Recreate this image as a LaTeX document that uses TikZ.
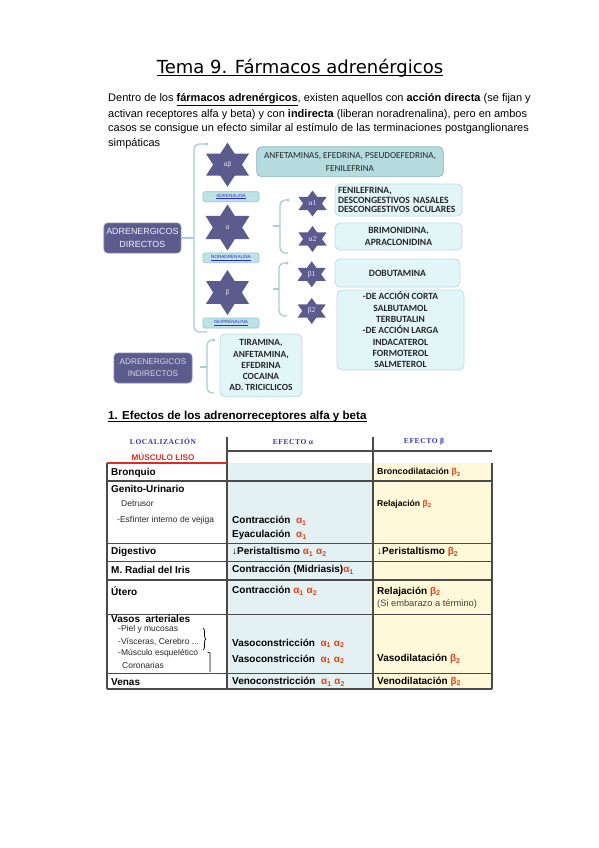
\documentclass[tikz,border=0pt]{standalone}
\usepackage{fontspec}
\setmainfont{Liberation Sans}
\newfontfamily\titlefont{DejaVu Sans}
\newfontfamily\calib{Carlito}
\newfontfamily\tms{Liberation Serif}
\usetikzlibrary{decorations.pathreplacing}
\definecolor{starcol}{HTML}{5C5B8E}
\definecolor{brk}{HTML}{A9CDD2}
\definecolor{tealfill}{HTML}{B4DBDE}
\definecolor{tealdraw}{HTML}{8FB7BC}
\definecolor{lightfill}{HTML}{E2F6F8}
\definecolor{lightdraw}{HTML}{BCDDE1}
\definecolor{lblfill}{HTML}{BEE3E6}
\definecolor{lbldraw}{HTML}{97C2C7}
\definecolor{lbltext}{HTML}{2A2AD0}
\definecolor{grk}{HTML}{E5421E}
\definecolor{hdrblue}{HTML}{3232B4}
\definecolor{cyanfill}{HTML}{E4F1F2}
\definecolor{yelfill}{HTML}{FFF9DA}
\definecolor{tline}{HTML}{4A4A4A}
\definecolor{redline}{HTML}{E02A20}
\definecolor{darkdraw}{HTML}{8786B0}
\newcommand\fsz[2]{\fontsize{#1}{#2}\selectfont}
\newcommand\myA[1]{\textcolor{grk}{α\textsubscript{#1}}}
\newcommand\myB[1]{\textcolor{grk}{β\textsubscript{#1}}}
\newcommand\hexstar[4]{%
  \fill[starcol,shift={(#1,#2)},xscale=#4]
    (90:#3) -- (60:{#3*0.58}) -- (30:#3) -- (0:{#3*0.58}) -- (-30:#3) -- (-60:{#3*0.58})
    -- (-90:#3) -- (-120:{#3*0.58}) -- (-150:#3) -- (180:{#3*0.58}) -- (150:#3) -- (120:{#3*0.58}) -- cycle;}
\begin{document}
\begin{tikzpicture}[x=1pt,y=-1pt,
  ptxt/.style={anchor=west,inner sep=0pt,font=\fsz{11}{13}},
  brkline/.style={draw=brk,line width=1.3pt,rounded corners=5pt},
  darkbox/.style={draw=darkdraw,fill=starcol,rounded corners=4pt,line width=0.8pt,text=white!90!starcol,align=center,inner sep=1pt},
  lbox/.style={draw=lightdraw,fill=lightfill,rounded corners=5pt,line width=0.8pt,align=center,inner sep=0pt,font=\calib\bfseries\fsz{9.6}{9.8},text=black!85},
  lblbox/.style={draw=lbldraw,fill=lblfill,rounded corners=1.5pt,line width=0.6pt,minimum width=56,minimum height=10,inner sep=0pt,font=\fsz{4.6}{5},text=lbltext},
  startxt/.style={inner sep=0pt,text=white!88!starcol},
  cell/.style={anchor=west,inner sep=0pt,font=\bfseries\fsz{10}{12}},
  small/.style={anchor=west,inner sep=0pt,font=\fsz{8.5}{9},text=black!85},
  hdr/.style={inner sep=0pt,text=hdrblue,font=\tms\bfseries\addfontfeature{LetterSpace=8}\fsz{7.5}{8}},
  tl/.style={draw=tline,line width=1.2pt}
]
\useasboundingbox[fill=white] (0,0) rectangle (599,848);

% ---------- title and paragraph
\node[inner sep=0pt,font=\titlefont\fsz{18}{20}] (title) at (300,68.3) {Tema 9. Fármacos adrenérgicos};
\draw[line width=0.9pt] ([yshift=-2.2pt]title.base west) -- ([yshift=-2.2pt]title.base east);

\node[ptxt] (p1) at (108,99.5) {Dentro de los \textbf{\underline{fármacos adrenérgicos}}, existen aquellos con \textbf{acción directa} (se fijan y};
\node[ptxt] (p2) at (108,114.2) {activan receptores alfa y beta) y con \textbf{indirecta} (liberan noradrenalina), pero en ambos};
\node[ptxt] (p3) at (108,128.9) {casos se consigue un efecto similar al estímulo de las terminaciones postganglionares};
\node[ptxt] (p4) at (108,143.6) {simpáticas};

% ---------- brackets
\draw[brkline] (207,144) -- (194,144) -- (194,332) -- (207,332);
\fill[brk] (207,144) circle (1.7);
\draw[brkline] (288,200) -- (280,200) -- (280,253) -- (288,253);
\fill[brk] (288,200) circle (1.7);
\coordinate (ta) at (273,226);
\draw[draw=brk,line width=1.3pt] (ta) -- (280,226);
\draw[brkline] (287,263) -- (279,263) -- (279,316) -- (287,316);
\fill[brk] (287,263) circle (1.7);
\coordinate (tb) at (273,289);
\draw[draw=brk,line width=1.3pt] (tb) -- (279,289);
\draw[brkline] (214,340) -- (207,340) -- (207,393) -- (214,393);
\fill[brk] (214,340) circle (1.7);
\coordinate (ti) at (200,367);
\draw[draw=brk,line width=1.3pt] (ti) -- (207,367);

% ---------- dark boxes
\node[darkbox,minimum width=77,minimum height=30,font=\fsz{8.9}{12.5}] (dir) at (142.4,238) {ADRENERGICOS\\DIRECTOS};
\coordinate (dirb) at (194,238);
\draw[draw=brk,line width=1.3pt] (dir.east) -- (dirb);
\node[darkbox,minimum width=78,minimum height=30,font=\fsz{8.2}{12},text=white!75!starcol] (ind) at (153,368) {ADRENERGICOS\\INDIRECTOS};

% ---------- stars
\hexstar{227.5}{164.7}{22}{1.13}
\node[startxt,font=\fsz{6.5}{7}] (sab) at (227.5,164.7) {αβ};
\hexstar{227.5}{227.5}{23}{1.1}
\node[startxt,font=\fsz{6.5}{7}] (sa) at (227.5,227.5) {α};
\hexstar{227.5}{292.5}{22.5}{1.1}
\node[startxt,font=\fsz{6.5}{7}] (sb) at (227.5,292.5) {β};
\hexstar{312.5}{203.5}{13}{1.25}
\node[startxt,font=\tms\fsz{7.5}{8}] (sa1) at (312.5,203.5) {α1};
\hexstar{312.5}{239}{13}{1.25}
\node[startxt,font=\tms\fsz{7.5}{8}] (sa2) at (312.5,239) {α2};
\hexstar{311.7}{274.3}{13}{1.25}
\node[startxt,font=\tms\fsz{7.5}{8}] (sb1) at (311.7,274.3) {β1};
\hexstar{311.7}{311}{13}{1.25}
\node[startxt,font=\tms\fsz{7.5}{8}] (sb2) at (311.7,311) {β2};

% ---------- label boxes
\node[lblbox] (adr) at (231,196.7) {\underline{ADRENALINA}};
\node[lblbox] (nor) at (231,257.8) {\underline{NORADRENALINA}};
\node[lblbox] (iso) at (231,323) {\underline{ISOPRENALINA}};

% ---------- drug boxes
\node[draw=tealdraw,fill=tealfill,rounded corners=5pt,line width=0.8pt,minimum width=186.6,minimum height=30,align=center,inner sep=0pt,font=\calib\fsz{9.2}{13.3},text=black!85] (top) at (350,161.7) {ANFETAMINAS, EFEDRINA, PSEUDOEFEDRINA,\\FENILEFRINA};
\node[lbox,minimum width=127,minimum height=32,align=left,text width=121,font=\calib\bfseries\fsz{9.6}{9.85}] (a1) at (398.5,200) {FENILEFRINA,\\DESCONGESTIVOS NASALES\\DESCONGESTIVOS OCULARES};
\node[lbox,minimum width=127,minimum height=27,font=\calib\bfseries\fsz{9.6}{12.6}] (a2) at (398.5,236.5) {BRIMONIDINA,\\APRACLONIDINA};
\node[lbox,minimum width=125,minimum height=28] (b1) at (397.5,273) {DOBUTAMINA};
\node[lbox,minimum width=127,minimum height=80,font=\calib\bfseries\fsz{9.5}{11.33}] (b2) at (400.5,330) {-DE ACCIÓN CORTA\\SALBUTAMOL\\TERBUTALIN\\-DE ACCIÓN LARGA\\INDACATEROL\\FORMOTEROL\\SALMETEROL};
\node[lbox,minimum width=82,minimum height=62.7,font=\calib\bfseries\fsz{9.4}{11.25}] (indd) at (261,365.4) {TIRAMINA,\\ANFETAMINA,\\EFEDRINA\\COCAINA\\AD. TRICICLICOS};

% ---------- section heading
\node[anchor=west,inner sep=0pt,font=\bfseries\fsz{11.6}{14}] (sec) at (108,416.7) {1. Efectos de los adrenorreceptores alfa y beta};
\draw[line width=1pt] ([yshift=-2pt]sec.base west) -- ([yshift=-2pt]sec.base east);

% ---------- table
\fill[cyanfill] (227,463) rectangle (373,689);
\fill[yelfill] (373,463) rectangle (492,689);
\draw[tl] (227,451) -- (492,451);
\foreach \yy in {481,543.5,561.7,580,614.3,673.3,689} \draw[tl] (107,\yy) -- (492,\yy);
\draw[tl] (107,463) -- (107,689);
\draw[tl] (227,437) -- (227,689);
\draw[tl] (373,437) -- (373,689);
\draw[tl] (492,463) -- (492,689);
\draw[draw=redline,line width=1.3pt] (107,463) -- (227,463);

\node[hdr] (h1) at (163,441.7) {LOCALIZACIÓN};
\node[hdr] (h2) at (293,441.7) {EFECTO α};
\node[hdr] (h3) at (424,441.7) {EFECTO β};
\node[inner sep=0pt,font=\bfseries\fsz{8.2}{9},text=redline] (ml) at (163,457) {MÚSCULO LISO};

\node[cell] (r1) at (111,472.5) {Bronquio};
\node[cell,font=\bfseries\fsz{8.8}{10}] (r1c) at (377,472.5) {Broncodilatación \myB{2}};

\node[cell] (r2) at (111,489.3) {Genito-Urinario};
\node[small] (r2s1) at (121,504) {Detrusor};
\node[small] (r2s2) at (117,520) {-Esfínter interno de vejiga};
\node[cell] (r2b1) at (232,520.7) {Contracción \ \myA{1}};
\node[cell] (r2b2) at (232,535) {Eyaculación \ \myA{1}};
\node[cell,font=\bfseries\fsz{8.6}{10}] (r2c) at (377,504) {Relajación \myB{2}};

\node[cell] (r3) at (111,552) {Digestivo};
\node[cell] (r3b) at (232,552) {↓Peristaltismo \myA{1} \myA{2}};
\node[cell] (r3c) at (377,552) {↓Peristaltismo \myB{2}};

\node[cell] (r4) at (111,570) {M. Radial del Iris};
\node[cell] (r4b) at (232,570) {Contracción (Midriasis)\myA{1}};

\node[cell] (r5) at (111,591) {Útero};
\node[cell] (r5b) at (232,591) {Contracción \myA{1} \myA{2}};
\node[cell] (r5c) at (377,591.5) {Relajación \myB{2}};
\node[small,font=\fsz{9.3}{10},text=black!75] (r5c2) at (377,604.3) {(Si embarazo a término)};

\node[cell] (r6) at (111,618.5) {Vasos \ arteriales};
\node[small] (r6s1) at (118,629.3) {-Piel y mucosas};
\node[small] (r6s2) at (118,641.7) {-Vísceras, Cerebro ...};
\node[small] (r6s3) at (118,653.3) {-Músculo esquelético};
\node[small] (r6s4) at (122,665) {Coronarias};
\draw[decorate,decoration={brace,amplitude=3pt},line width=0.7pt] (203,628) -- (203,650);
\draw[line width=0.7pt] (207.5,652) -- (210,653) -- (210,672);
\node[cell] (r6b1) at (232,643.3) {Vasoconstricción \ \myA{1} \myA{2}};
\node[cell] (r6b2) at (232,659.3) {Vasoconstricción \ \myA{1} \myA{2}};
\node[cell] (r6c) at (377,659.3) {Vasodilatación \myB{2}};

\node[cell] (r7) at (111,681.7) {Venas};
\node[cell] (r7b) at (232,681.7) {Venoconstricción \ \myA{1} \myA{2}};
\node[cell] (r7c) at (377,681.7) {Venodilatación \myB{2}};
\end{tikzpicture}
\end{document}
